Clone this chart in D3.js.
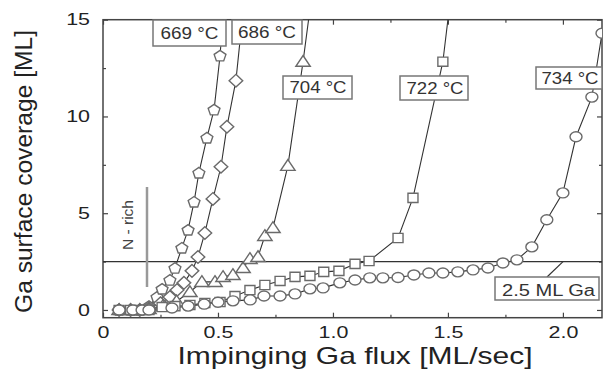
<!DOCTYPE html>
<html><head><meta charset="utf-8">
<script src="https://cdn.jsdelivr.net/npm/d3@7"></script>
<style>body{margin:0;background:#fff}svg{display:block}text{font-family:"Liberation Sans",Arial,sans-serif}</style>
</head><body>
<svg id="c" width="603" height="372"></svg>
<script>
// ---- data ----
const xTicks = [0, 0.5, 1.0, 1.5, 2.0];
const xTickLabels = ["0", "0.5", "1.0", "1.5", "2.0"];
const xMinorTicks = [0.25, 0.75, 1.25, 1.75];
const yTicks = [0, 5, 10, 15];
const yTickLabels = ["0", "5", "10", "15"];
const yMinorTicks = [2.5, 7.5, 12.5];

const flux669 = [0.07, 0.12, 0.16, 0.20, 0.235, 0.257, 0.291, 0.313, 0.343, 0.37, 0.396, 0.417, 0.452, 0.483, 0.509, 0.53];
const cov669  = [0, 0, 0, 0.2, 0.67, 1.09, 1.55, 2.17, 3.21, 4.14, 5.59, 7.09, 8.90, 10.35, 13.14, 16.5];
const flux686 = [0.07, 0.12, 0.16, 0.20, 0.25, 0.291, 0.322, 0.352, 0.387, 0.413, 0.443, 0.478, 0.513, 0.539, 0.578, 0.614];
const cov686  = [0, 0, 0, 0.1, 0.35, 0.67, 1.03, 1.40, 2.02, 2.74, 3.98, 5.74, 7.40, 9.47, 11.85, 16];
const flux704 = [0.07, 0.12, 0.16, 0.20, 0.26, 0.32, 0.378, 0.43, 0.487, 0.522, 0.565, 0.609, 0.639, 0.674, 0.704, 0.739, 0.804, 0.87, 0.905];
const cov704  = [0, 0, 0, 0.05, 0.2, 0.45, 0.93, 1.45, 1.45, 1.71, 1.81, 2.17, 2.64, 2.74, 3.83, 4.24, 7.45, 12.83, 16];
const flux722 = [0.07, 0.12, 0.16, 0.20, 0.257, 0.313, 0.378, 0.443, 0.509, 0.574, 0.639, 0.704, 0.77, 0.835, 0.90, 0.96, 1.026, 1.096, 1.157, 1.283, 1.348, 1.478, 1.51];
const cov722  = [0, 0, 0, 0, 0.15, 0.2, 0.26, 0.36, 0.41, 0.72, 1.03, 1.29, 1.50, 1.71, 1.76, 1.97, 2.02, 2.38, 2.53, 3.72, 5.79, 12.83, 16];
const flux734 = [0.07, 0.13, 0.17, 0.20, 0.30, 0.37, 0.44, 0.50, 0.565, 0.64, 0.70, 0.77, 0.835, 0.90, 0.957, 1.03, 1.096, 1.16, 1.217, 1.283, 1.352, 1.417, 1.478, 1.543, 1.609, 1.674, 1.739, 1.80, 1.865, 1.93, 2.0, 2.057, 2.126, 2.17];
const cov734  = [0, 0, 0, 0, 0.1, 0.2, 0.3, 0.4, 0.47, 0.52, 0.72, 0.72, 0.83, 1.09, 1.14, 1.40, 1.55, 1.66, 1.66, 1.68, 1.81, 1.91, 1.91, 1.97, 2.07, 2.17, 2.43, 2.59, 3.26, 4.66, 6.05, 8.95, 11.0, 14.3];

const seriesNames = ["669 °C", "686 °C", "704 °C", "722 °C", "734 °C"];
const thresholdValue = 2.5;
const thresholdLabel = "2.5 ML Ga";
const regionLabel = "N - rich";

// ---- layout ----
const svg = d3.select("#c");
const L = 103, R = 602, T = 19.7, B = 317.7;
const x = d3.scaleLinear().domain([0, 2.17]).range([L, R]);
const y = d3.scaleLinear().domain([-0.4, 15]).range([B, T]);
const axisColor = "#444";

svg.append("defs").append("clipPath").attr("id", "clip")
  .append("rect").attr("x", L).attr("y", T).attr("width", R - L).attr("height", B - T);

function stretchText(sel, f) {
  sel.each(function () {
    const w = this.getComputedTextLength();
    d3.select(this).attr("textLength", w * f).attr("lengthAdjust", "spacingAndGlyphs");
  });
}

// axes
function styleAxis(g) {
  g.select(".domain").remove();
  g.selectAll(".tick line").attr("stroke", axisColor).attr("stroke-width", 1.2);
}
const gx = svg.append("g").attr("transform", `translate(0,${B})`)
  .call(d3.axisBottom(x).tickValues(xTicks).tickFormat((d, i) => xTickLabels[i]).tickSizeInner(-5).tickSizeOuter(0).tickPadding(9));
styleAxis(gx);
gx.selectAll(".tick text").attr("font-size", 16.5).attr("fill", "#222").attr("font-family", "Liberation Sans, Arial, sans-serif").call(stretchText, 1.3);
svg.append("g").attr("transform", `translate(0,${B})`)
  .call(d3.axisBottom(x).tickValues(xMinorTicks).tickFormat("").tickSizeInner(-3).tickSizeOuter(0)).call(styleAxis);
svg.append("g").attr("transform", `translate(0,${T})`)
  .call(d3.axisTop(x).tickValues(xTicks).tickFormat("").tickSizeInner(-5).tickSizeOuter(0)).call(styleAxis);
svg.append("g").attr("transform", `translate(0,${T})`)
  .call(d3.axisTop(x).tickValues(xMinorTicks).tickFormat("").tickSizeInner(-3).tickSizeOuter(0)).call(styleAxis);

const gy = svg.append("g").attr("transform", `translate(${L},0)`)
  .call(d3.axisLeft(y).tickValues(yTicks).tickFormat((d, i) => yTickLabels[i]).tickSizeInner(-5).tickSizeOuter(0).tickPadding(13));
styleAxis(gy);
gy.selectAll(".tick text").attr("font-size", 16.5).attr("fill", "#222").attr("font-family", "Liberation Sans, Arial, sans-serif").call(stretchText, 1.3);
svg.append("g").attr("transform", `translate(${L},0)`)
  .call(d3.axisLeft(y).tickValues(yMinorTicks).tickFormat("").tickSizeInner(-3).tickSizeOuter(0)).call(styleAxis);
svg.append("g").attr("transform", `translate(${R},0)`)
  .call(d3.axisRight(y).tickValues(yTicks).tickFormat("").tickSizeInner(-5).tickSizeOuter(0)).call(styleAxis);
svg.append("g").attr("transform", `translate(${R},0)`)
  .call(d3.axisRight(y).tickValues(yMinorTicks).tickFormat("").tickSizeInner(-3).tickSizeOuter(0)).call(styleAxis);

// frame
svg.append("rect").attr("x", L).attr("y", T).attr("width", R - L).attr("height", B - T)
  .attr("fill", "none").attr("stroke", axisColor).attr("stroke-width", 1.5);

// axis titles
svg.append("text").attr("x", 355).attr("y", 364).attr("text-anchor", "middle")
  .attr("font-size", 24).attr("fill", "#222").attr("textLength", 355).attr("lengthAdjust", "spacingAndGlyphs")
  .text("Impinging Ga flux [ML/sec]");
svg.append("text").attr("transform", "translate(32,171.5) rotate(-90)").attr("text-anchor", "middle")
  .attr("font-size", 23).attr("fill", "#222").attr("textLength", 283).attr("lengthAdjust", "spacingAndGlyphs")
  .text("Ga surface coverage [ML]");

// threshold line and N-rich
const plot = svg.append("g").attr("clip-path", "url(#clip)");
plot.append("line").attr("x1", L).attr("x2", R).attr("y1", y(thresholdValue)).attr("y2", y(thresholdValue))
  .attr("stroke", "#333").attr("stroke-width", 1.3);
svg.append("line").attr("x1", 147).attr("x2", 147).attr("y1", 187).attr("y2", 287)
  .attr("stroke", "#999").attr("stroke-width", 2.5);
svg.append("text").attr("transform", "translate(133,225) rotate(-90)").attr("text-anchor", "middle")
  .attr("font-size", 15).attr("fill", "#444").attr("textLength", 50).attr("lengthAdjust", "spacingAndGlyphs")
  .text(regionLabel);

// series
const series = [
  { xs: flux669, ys: cov669, shape: "pentagon" },
  { xs: flux686, ys: cov686, shape: "diamond" },
  { xs: flux704, ys: cov704, shape: "triangle" },
  { xs: flux722, ys: cov722, shape: "square" },
  { xs: flux734, ys: cov734, shape: "circle" }
];
function markerPath(shape) {
  const p = d3.path();
  let pts;
  if (shape === "pentagon") {
    pts = d3.range(5).map(k => { const a = -Math.PI / 2 + k * 2 * Math.PI / 5; return [6.2 * Math.cos(a), 5.8 * Math.sin(a) + 0.5]; });
  } else if (shape === "diamond") {
    pts = [[0, -6.3], [6.8, 0], [0, 6.3], [-6.8, 0]];
  } else if (shape === "triangle") {
    pts = [[0, -6.2], [7.2, 4.6], [-7.2, 4.6]];
  } else {
    pts = [[-5, -4.6], [5, -4.6], [5, 4.6], [-5, 4.6]];
  }
  p.moveTo(pts[0][0], pts[0][1]);
  pts.slice(1).forEach(q => p.lineTo(q[0], q[1]));
  p.closePath();
  return p.toString();
}
const line = d3.line().x(d => x(d[0])).y(d => y(d[1]));
series.forEach(s => {
  const pts = s.xs.map((v, i) => [v, s.ys[i]]);
  plot.append("path").attr("d", line(pts)).attr("fill", "none").attr("stroke", "#333").attr("stroke-width", 1.1);
});
series.forEach(s => {
  const pts = s.xs.map((v, i) => [v, s.ys[i]]).filter(d => d[1] <= 15);
  const g = plot.append("g");
  if (s.shape === "circle") {
    g.selectAll("ellipse").data(pts).join("ellipse")
      .attr("cx", d => x(d[0])).attr("cy", d => y(d[1])).attr("rx", 6).attr("ry", 5)
      .attr("fill", "#fff").attr("stroke", "#6a6a6a").attr("stroke-width", 1.4);
  } else {
    const dpath = markerPath(s.shape);
    g.selectAll("path").data(pts).join("path")
      .attr("transform", d => `translate(${x(d[0])},${y(d[1])})`).attr("d", dpath)
      .attr("fill", "#fff").attr("stroke", "#6a6a6a").attr("stroke-width", 1.4);
  }
});

// labels
const labelBoxes = [
  { t: seriesNames[0], x0: 153, x1: 226, y0: 20, y1: 46, tx: 189.5, ty: 38.5, w: 58 },
  { t: seriesNames[1], x0: 232, x1: 302, y0: 20, y1: 44, tx: 267, ty: 37.5, w: 58 },
  { t: seriesNames[2], x0: 283, x1: 352, y0: 76, y1: 99, tx: 318, ty: 93, w: 57 },
  { t: seriesNames[3], x0: 400, x1: 468, y0: 76, y1: 100, tx: 435, ty: 94, w: 57 },
  { t: seriesNames[4], x0: 536, x1: 602, y0: 67, y1: 89, tx: 570, ty: 83.5, w: 57 },
  { t: thresholdLabel, x0: 495, x1: 599, y0: 277, y1: 300, tx: 548.5, ty: 295.5, w: 93 }
];
svg.append("line").attr("x1", 547).attr("y1", 277).attr("x2", 563).attr("y2", y(thresholdValue))
  .attr("stroke", "#333").attr("stroke-width", 1.2);
labelBoxes.forEach(b => {
  svg.append("rect").attr("x", b.x0).attr("y", b.y0).attr("width", b.x1 - b.x0).attr("height", b.y1 - b.y0)
    .attr("fill", "#fff").attr("stroke", "#777").attr("stroke-width", 1.5);
  svg.append("text").attr("x", b.tx).attr("y", b.ty).attr("text-anchor", "middle")
    .attr("font-size", 16).attr("fill", "#333").attr("textLength", b.w).attr("lengthAdjust", "spacingAndGlyphs")
    .text(b.t);
});
</script>
</body></html>
